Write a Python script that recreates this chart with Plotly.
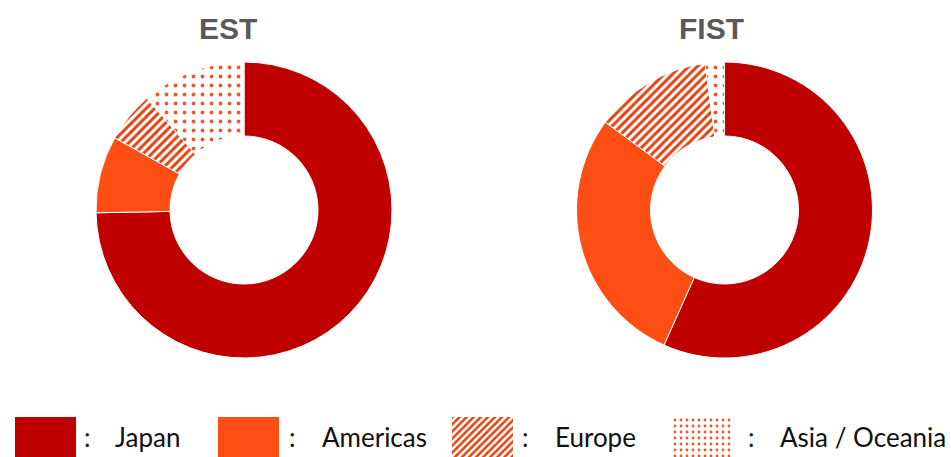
import plotly.graph_objects as go

# ---- data ----
regions = ["Japan", "Americas", "Europe", "Asia / Oceania"]
est_values = [74.7, 8.4, 5.5, 11.4]
fist_values = [56.7, 28.4, 12.8, 2.1]
chart_titles = ["EST", "FIST"]

# ---- styles ----
W, H = 951, 457
JAPAN = "#C00000"
AMER = "#FF4E14"
STRIPE = "#E3420F"
DOT = "#F0562A"
solid_colors = [JAPAN, AMER, "white", "white"]
patterns = [
    dict(shape=""),
    dict(shape=""),
    dict(shape="/", fgcolor=STRIPE, bgcolor="white", size=6, solidity=0.5, fillmode="replace"),
    dict(shape=".", fgcolor=DOT, bgcolor="white", size=9, solidity=0.14, fillmode="replace"),
]
legend_patterns = [
    dict(shape=""),
    dict(shape=""),
    dict(shape="/", fgcolor=STRIPE, bgcolor="white", size=5, solidity=0.5, fillmode="replace"),
    dict(shape=".", fgcolor=DOT, bgcolor="white", size=6, solidity=0.18, fillmode="replace"),
]

def px_x(x):
    return x / W

def px_y(y):
    return 1 - y / H

fig = go.Figure()

pie_boxes = [(96, 392, 62, 358), (576.5, 872.5, 62, 358)]
for vals, (x0, x1, y0, y1) in zip([est_values, fist_values], pie_boxes):
    fig.add_trace(go.Pie(
        labels=regions, values=vals, hole=0.5, sort=False, direction="clockwise",
        rotation=0, textinfo="none", hoverinfo="label+percent", showlegend=False,
        marker=dict(colors=solid_colors, line=dict(color="white", width=1),
                    pattern=dict(
                        shape=[p.get("shape", "") for p in patterns],
                        fgcolor=[p.get("fgcolor", "white") for p in patterns],
                        bgcolor=[p.get("bgcolor", c) for p, c in zip(patterns, solid_colors)],
                        size=[p.get("size", 8) for p in patterns],
                        solidity=[p.get("solidity", 0.3) for p in patterns],
                        fillmode="replace")),
        domain=dict(x=[px_x(x0), px_x(x1)], y=[px_y(y1), px_y(y0)]),
    ))

# Titles
title_pos = [(228, 28.5), (711.5, 28.5)]
for t, (tx, ty) in zip(chart_titles, title_pos):
    fig.add_annotation(text=t, x=px_x(tx), y=px_y(ty), xref="paper", yref="paper",
                       showarrow=False, xanchor="center", yanchor="middle",
                       font=dict(family="Liberation Sans, Arial", size=30, color="#595959",
                                 weight="bold"))

# Custom legend: swatches as bars on a hidden axis
swatch_left = [15, 218, 452, 671]
swatch_w = 61
colon_x = [87, 292, 525, 751]
label_x = [113, 320, 553, 778]
for i, name in enumerate(regions):
    p = legend_patterns[i]
    fig.add_trace(go.Bar(
        x=[swatch_left[i] + swatch_w / 2], y=[1], width=[swatch_w], base=[0],
        xaxis="x", yaxis="y", showlegend=False, hoverinfo="skip",
        marker=dict(color=solid_colors[i], line=dict(width=0),
                    pattern=dict(shape=p.get("shape", ""),
                                 fgcolor=p.get("fgcolor", None),
                                 bgcolor=p.get("bgcolor", None),
                                 size=p.get("size", 8), solidity=p.get("solidity", 0.3),
                                 fillmode="replace") if p.get("shape") else None),
    ))
    fig.add_annotation(text=":", x=px_x(colon_x[i]), y=px_y(437), xref="paper", yref="paper",
                       showarrow=False, xanchor="center", yanchor="middle",
                       font=dict(family="Lato", size=26, color="#111111"))
    fig.add_annotation(text=name, x=px_x(label_x[i]), y=px_y(437), xref="paper", yref="paper",
                       showarrow=False, xanchor="left", yanchor="middle",
                       font=dict(family="Lato", size=26, color="#111111"))

fig.update_layout(
    width=W, height=H, margin=dict(l=0, r=0, t=0, b=0),
    paper_bgcolor="white", plot_bgcolor="white",
    xaxis=dict(domain=[0, 1], range=[0, W], visible=False, fixedrange=True),
    yaxis=dict(domain=[px_y(457), px_y(417)], range=[0, 1], visible=False, fixedrange=True),
    bargap=0,
)

fig.write_html("out.html")
